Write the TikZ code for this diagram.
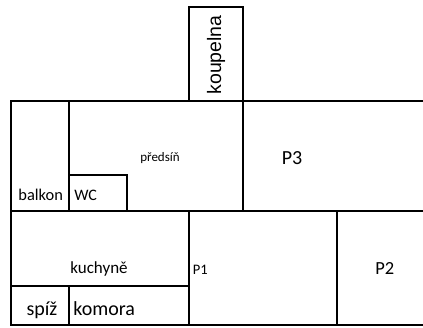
\documentclass[tikz,border=0pt]{standalone}
\usepackage{fontspec}
\setmainfont{Carlito}
\newfontfamily\arialfont{Liberation Sans}

\newcommand{\fsz}[1]{\fontsize{#1}{#1}\selectfont}

\begin{document}
\begin{tikzpicture}[x=1pt,y=-1pt,line width=1.8pt,every node/.style={inner sep=0pt,anchor=base}]
\useasboundingbox (0,0) rectangle (423,327);

\coordinate (NW) at (11,101);
\coordinate (NE) at (423,101);
\coordinate (MW) at (11,210.7);
\coordinate (ME) at (423,210.7);
\coordinate (SW) at (11,325);
\coordinate (SE) at (423,325);

\draw (189,6.7) rectangle (243.3,101);
\draw (NE) -- (NW) -- (SW) -- (SE);
\draw (MW) -- (ME);
\draw (69,101) -- (69,210.7);
\draw (243.3,101) -- (243.3,210.7);
\draw (69,175) rectangle (127,210.7);
\draw (189,210.7) -- (189,325);
\draw (337,210.7) -- (337,325);
\draw (11,286) -- (189,286);
\draw (69,286) -- (69,325);

\node (koupelna) at (216,55) [anchor=center,rotate=90,font=\arialfont\fsz{19.5}] {koupelna};
\node (predsin) at (160,161.7) [font=\fsz{13}] {předsíň};
\node (P3) at (281,164) [anchor=base west,font=\fsz{20}] {P3};
\node (balkon) at (40.7,200.5) [font=\fsz{16.4}] {balkon};
\node (WC) at (73.5,200.5) [anchor=base west,font=\fsz{16}] {WC};
\node (kuchyne) at (99,273) [font=\fsz{17}] {kuchyně};
\node (P1) at (192,274.3) [anchor=base west,font=\fsz{14.5}] {P1};
\node (P2) at (374.5,274.3) [anchor=base west,font=\fsz{18.5}] {P2};
\node (spiz) at (42,315) [font=\fsz{20}] {spíž};
\node (komora) at (72.5,315) [anchor=base west,font=\fsz{20}] {komora};
\end{tikzpicture}
\end{document}
